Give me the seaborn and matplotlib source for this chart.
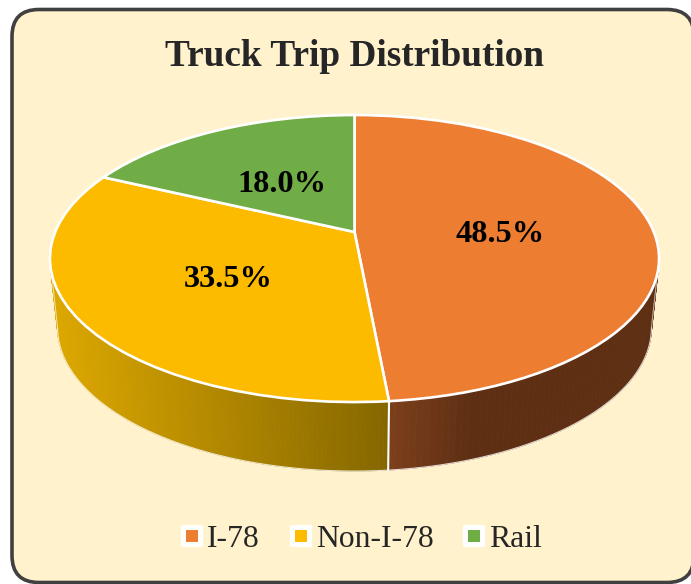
from __future__ import annotations

import matplotlib

matplotlib.use("Agg")

import matplotlib.pyplot as plt
import numpy as np
import seaborn as sns
from matplotlib.collections import PolyCollection
from matplotlib.legend_handler import HandlerTuple
from matplotlib.lines import Line2D
from matplotlib.markers import MarkerStyle
from matplotlib.patches import FancyBboxPatch
from matplotlib.transforms import Affine2D, Transform

categories = ["I-78", "Non-I-78", "Rail"]
shares = [48.5, 33.5, 18.0]
title = "Truck Trip Distribution"

top_colors = sns.color_palette(["#ED7D31", "#FDBB00", "#70AD47"])

# tilted disc, in pixels of the 691x584 canvas
CX, CY = 354.5, 232.0
W, H, P = 299.3, 138.6, 0.185
DEPTH = 69.0
BOTTOM_SCALE = 0.975


class Tilt(Transform):
    input_dims = output_dims = 2

    def transform_non_affine(self, values):
        values = np.asarray(values, dtype=float)
        d = 1 + P * values[:, 1]
        return np.column_stack((CX + W * values[:, 0] / d, CY - H * values[:, 1] / d))


def rim(theta: np.ndarray) -> tuple[np.ndarray, np.ndarray]:
    # theta is clockwise from twelve o'clock
    pts = Tilt().transform(np.column_stack((np.sin(theta), np.cos(theta))))
    low = np.column_stack((CX + BOTTOM_SCALE * (pts[:, 0] - CX), pts[:, 1] + DEPTH))
    return pts, low


def side_color(i: int, x: float) -> tuple[float, float, float]:
    if i == 0:
        stops = ([390, 470], ["#7C3F1C", "#5E2F13"])
    elif i == 1:
        stops = ([57, 388], ["#DCA700", "#856700"])
    else:
        stops = ([100, 354], ["#4A7330", "#4A7330"])
    rgb = np.array([matplotlib.colors.to_rgb(c) for c in stops[1]])
    return tuple(np.interp(x, stops[0], rgb[:, k]) for k in range(3))


def main() -> None:
    sns.set_theme(style="white")
    plt.rcParams["font.family"] = ["Liberation Serif", "DejaVu Serif"]

    fig, ax = plt.subplots(figsize=(6.91, 5.84), dpi=100)
    fig.patch.set_facecolor("white")
    ax.set_position([0, 0, 1, 1])

    wedges, _, pct = ax.pie(
        shares,
        colors=top_colors,
        startangle=90,
        counterclock=False,
        autopct="%.1f%%",
        pctdistance=0.49,
        wedgeprops={"edgecolor": "white", "linewidth": 1.9, "zorder": 3},
        textprops={"fontsize": 23.3, "fontweight": "bold", "color": "black", "zorder": 4},
    )
    ax.set_aspect("auto")
    ax.set_xlim(0, 691)
    ax.set_ylim(584, 0)

    tilt = Tilt() + ax.transData
    for w in wedges:
        w.set_transform(tilt)
    for t in pct:
        t.set_transform(tilt + Affine2D().translate(0, -6))

    ax.add_patch(
        FancyBboxPatch(
            (39, 36.5),
            628,
            519,
            boxstyle="round,pad=27,rounding_size=27",
            facecolor="#FFF2CC",
            edgecolor="#404040",
            linewidth=2.6,
            zorder=0,
        )
    )

    # side wall, thin quads so the shade can run along it
    edges = 2 * np.pi * np.cumsum([0] + shares) / sum(shares)
    for i in range(len(shares)):
        theta = np.linspace(edges[i], edges[i + 1], 161)
        up, low = rim(theta)
        quads = [np.array([up[j], up[j + 1], low[j + 1], low[j]]) for j in range(len(theta) - 1)]
        cols = [side_color(i, q[:, 0].mean()) for q in quads]
        ax.add_collection(PolyCollection(quads, facecolors=cols, edgecolors=cols, linewidths=0.6, zorder=1))

    # light outline of the front only
    theta = np.radians(np.linspace(100.7, 259.3, 181))
    up, low = rim(theta)
    ax.plot(low[:, 0], low[:, 1], color="white", lw=0.8, alpha=0.8, zorder=1.5)
    for j in (0, -1):
        ax.plot([up[j, 0], low[j, 0]], [up[j, 1], low[j, 1]], color="white", lw=0.8, alpha=0.6, zorder=1.5)
    up, low = rim(edges[[1]])
    ax.plot([up[0, 0], low[0, 0]], [up[0, 1], low[0, 1]], color="white", lw=1.5, zorder=2)
    ax.set_xlim(0, 691)
    ax.set_ylim(584, 0)

    fig.suptitle(title, x=0.513, y=0.904, va="center", fontsize=26.8, fontweight="bold", color="#262626")

    handles = []
    for c in top_colors:
        box = MarkerStyle("s", joinstyle="round")
        back = Line2D([], [], ls="", marker=box, ms=12.5, mfc="white", mec="white", mew=3)
        front = Line2D([], [], ls="", marker="s", ms=8, mfc=c, mec=c, mew=0)
        handles.append((back, front))
    ax.legend(
        handles,
        categories,
        handler_map={tuple: HandlerTuple(ndivide=1, pad=0)},
        loc="center",
        bbox_to_anchor=(0.5232, 0.0765),
        ncol=3,
        frameon=False,
        fontsize=22.8,
        labelcolor="#262626",
        handlelength=0.7,
        handletextpad=0.13,
        columnspacing=0.93,
    )

    fig.savefig("out.png", dpi=100)
    plt.close(fig)


if __name__ == "__main__":
    main()
